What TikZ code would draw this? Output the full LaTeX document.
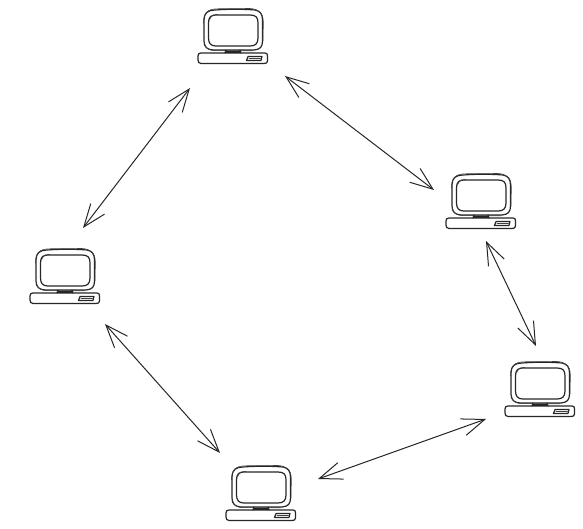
\documentclass[tikz,border=0pt]{standalone}
\usetikzlibrary{arrows.meta}
\tikzset{
  sk/.style={line width=0.9pt,draw=black!85,line cap=round,line join=round},
  skthin/.style={line width=0.45pt,draw=black!75,line cap=round,line join=round},
  link/.style={line width=0.75pt,draw=black!85,
    {Straight Barb[length=17pt,width=13pt,line width=0.75pt]}-{Straight Barb[length=17pt,width=13pt,line width=0.75pt]}},
  pics/computer/.style={code={
    % outer screen
    \draw[sk] (6,-33) .. controls (6,-40) and (10,-43) .. (17,-43) .. controls (30,-44) and (45,-44) .. (57,-43)
       .. controls (62,-42) and (64.5,-39) .. (64.5,-33) -- (64.5,-12) .. controls (64.5,-6) and (62,-3.5) .. (56,-3)
       -- (15,-3) .. controls (9,-3.5) and (6,-6) .. (6,-12) -- cycle;
    \draw[skthin] (5.5,-30) .. controls (5.5,-40) and (9,-44) .. (20,-44.2) -- (52,-44.5)
       .. controls (60,-44) and (65.5,-41) .. (65.3,-30) -- (65,-12);
    \draw[skthin] (6.5,-10) .. controls (7.5,-5) and (10,-2.6) .. (17,-2.4) -- (55,-2.2);
    % inner screen
    \draw[sk] (10.5,-30) .. controls (10.5,-36) and (13,-38) .. (18,-38) -- (52,-38)
       .. controls (58,-38) and (60,-35.5) .. (60,-30) -- (60,-15) .. controls (60,-9.5) and (57.5,-7) .. (52,-7)
       -- (18,-7) .. controls (13,-7) and (10.5,-9.5) .. (10.5,-15) -- cycle;
    \draw[skthin] (11.5,-33) .. controls (13,-37) and (15,-38.6) .. (20,-38.6);
    % stand
    \draw[sk] (28,-3) -- (27,0) (42,-3) -- (43,0);
    \draw[sk,line width=1.3pt] (28,-0.8) -- (42,-0.8);
    % base
    \draw[sk] (3,0) -- (67,0) .. controls (69,0) and (69.5,1) .. (69.5,3) -- (69.5,8) .. controls (69.5,10) and (68,10.5) .. (66,10.5)
       -- (3,10.5) .. controls (1,10.5) and (0,9) .. (0,7) -- (0,3) .. controls (0,1) and (1,0) .. (3,0) -- cycle;
    % slot
    \draw[sk] (50,3.5) -- (64,3.5) -- (63,7.5) -- (48.5,7.5) -- cycle;
    \draw[skthin] (51,5.2) -- (62.5,5.2);
  }}
}
\begin{document}
\begin{tikzpicture}[x=0.75pt,y=-0.75pt]
\useasboundingbox (0,0) rectangle (583,529);
\pic at (198,53) {computer};
\pic at (446,218) {computer};
\pic at (30,293) {computer};
\pic at (505,406) {computer};
\pic at (226,510) {computer};
\coordinate (a1) at (190,88);  \coordinate (a2) at (83,228);
\coordinate (b1) at (285,76);  \coordinate (b2) at (434,190);
\coordinate (c1) at (486,241); \coordinate (c2) at (536,346);
\coordinate (d1) at (486,419); \coordinate (d2) at (318,479);
\coordinate (e1) at (105,324); \coordinate (e2) at (220,453);
\draw[link] (a1) -- (a2);
\draw[link] (b1) -- (b2);
\draw[link] (c1) -- (c2);
\draw[link] (d1) -- (d2);
\draw[link] (e1) -- (e2);
\end{tikzpicture}
\end{document}
